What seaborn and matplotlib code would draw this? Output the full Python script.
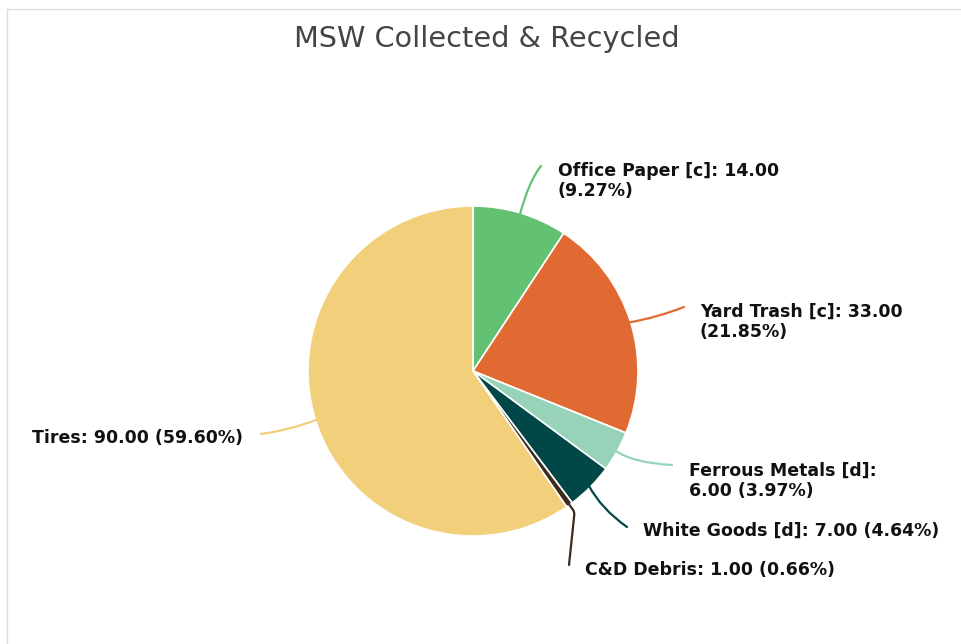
import numpy as np
import matplotlib
matplotlib.use("Agg")
import matplotlib.pyplot as plt
from matplotlib.lines import Line2D
import seaborn as sns

categories = ["Office Paper [c]", "Yard Trash [c]", "Ferrous Metals [d]",
              "White Goods [d]", "C&D Debris", "Tires"]
values = [14, 33, 6, 7, 1, 90]
colors = ["#63c174", "#e06a31", "#97d3b9", "#024747", "#3d2a1e", "#f2cf7a"]

sns.set_theme(style="white")
plt.rcParams["font.family"] = ["DejaVu Sans"]
palette = sns.color_palette(colors)

W, H = 962, 644
fig = plt.figure(figsize=(W / 100, H / 100), dpi=100)
ax = fig.add_axes([0, 0, 1, 1])

cx, cy, R = 473, H - 371, 165
wedges, _ = ax.pie(values, colors=palette, startangle=90, counterclock=False,
                   center=(cx, cy), radius=R, frame=True,
                   wedgeprops=dict(edgecolor="white", linewidth=1.2))
ax.set_xlim(0, W)
ax.set_ylim(0, H)
ax.set_axis_off()

total = sum(values)
# label layout: text x, text y (px from top), ha, line end x, y, connection style
layout = [
    (558, 181, "left", 541, 166, "angle3,angleA=50,angleB=75"),
    (700, 322, "left", 684, 307, "arc3,rad=-0.05"),
    (689, 481, "left", 672, 465, "angle3,angleA=-3,angleB=-35"),
    (643, 531, "left", 627, 527, "angle3,angleA=-35,angleB=-62"),
    (585, 570, "left", 569, 565, "angle,angleA=84,angleB=-54,rad=3"),
    (243, 438, "right", 261, 434, "arc3,rad=0.06"),
]

for w, cat, v, col, (tx, ty, ha, lx, ly, cs) in zip(wedges, categories, values, palette, layout):
    mid = np.deg2rad((w.theta1 + w.theta2) / 2)
    ex, ey = cx + (R - 2) * np.cos(mid), cy + (R - 2) * np.sin(mid)
    pct = v / total * 100
    if cat.startswith("Ferrous"):
        label = f"{cat}:\n{v:.2f} ({pct:.2f}%)"
    elif cat.startswith(("Office", "Yard")):
        label = f"{cat}: {v:.2f}\n({pct:.2f}%)"
    else:
        label = f"{cat}: {v:.2f} ({pct:.2f}%)"
    ax.annotate("", xy=(ex, ey), xytext=(lx, H - ly),
                arrowprops=dict(arrowstyle="-", color=col, lw=1.6,
                                shrinkA=0, shrinkB=0, connectionstyle=cs))
    ax.text(tx, H - ty, label, ha=ha, va="center", fontsize=12.5,
            fontweight="bold", color="#111111", linespacing=1.2)

fig.text(487 / W, 1 - 39 / H, "MSW Collected & Recycled", ha="center", va="center",
         fontsize=20.7, color="#444444")

fig.add_artist(Line2D([7 / W, 7 / W], [0, 1 - 9 / H], transform=fig.transFigure,
                      color="#dddddd", lw=1))
fig.add_artist(Line2D([7 / W, 1], [1 - 9 / H, 1 - 9 / H], transform=fig.transFigure,
                      color="#dddddd", lw=1))

fig.savefig("out.png", dpi=100, facecolor="white")
